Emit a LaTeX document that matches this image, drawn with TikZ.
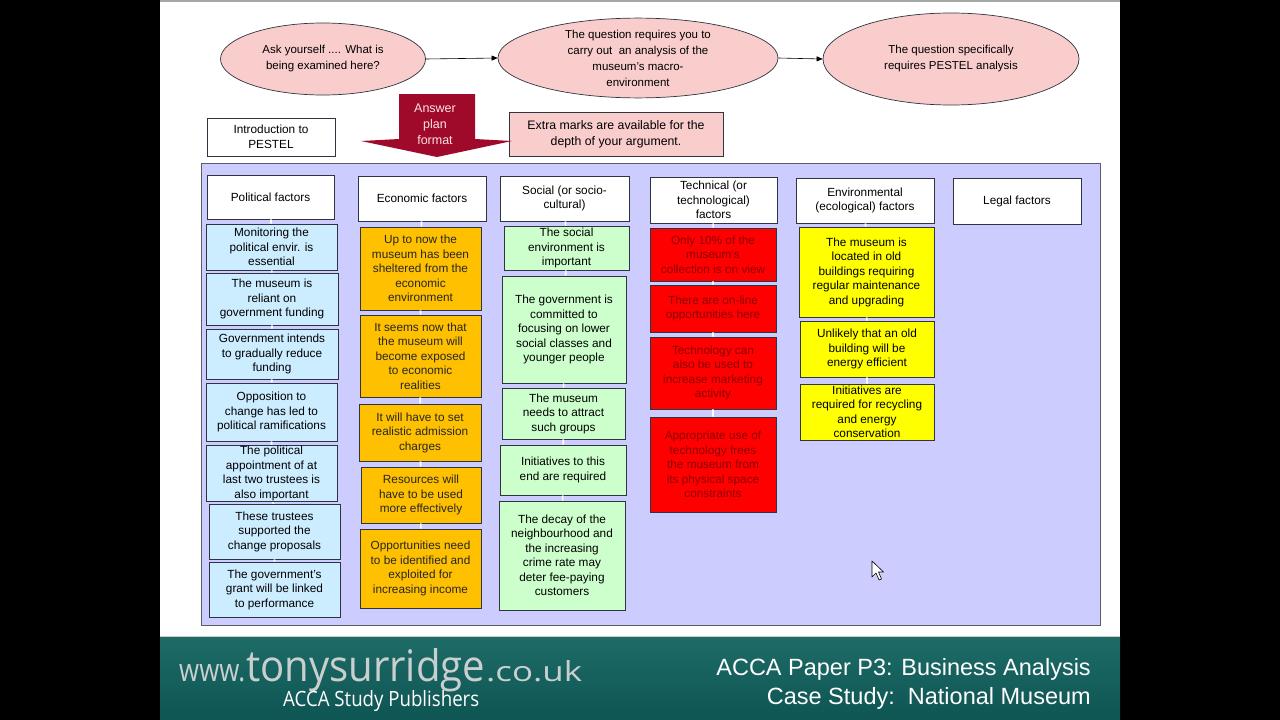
\documentclass[tikz,border=0pt]{standalone}
\usepackage{fontspec}
\setmainfont{Liberation Sans}
\newfontfamily\logofont{Open Sans}
\usetikzlibrary{shapes.geometric,arrows.meta}
\definecolor{pinkc}{HTML}{FACDCD}
\definecolor{lavc}{HTML}{CCCCFF}
\definecolor{polc}{HTML}{CCECFF}
\definecolor{ecoc}{HTML}{FFC000}
\definecolor{socc}{HTML}{CCFFCC}
\definecolor{tecc}{HTML}{FF0000}
\definecolor{envc}{HTML}{FFFF00}
\definecolor{arrc}{HTML}{A00A2A}
\definecolor{redtxt}{HTML}{8C0000}
\definecolor{bordc}{HTML}{2E3440}
\definecolor{tealtop}{HTML}{1D6B67}
\definecolor{tealbot}{HTML}{0E5553}
\definecolor{logoc}{HTML}{C9CFCF}
\newcommand\bodyf{\fontsize{11.8}{14.5}\selectfont}
\newcommand\bx[7]{\node[#6, minimum width={#4-#2}, minimum height={#5-#3}] (#1) at ({(#2+#4)/2},{(#3+#5)/2}) {#7};}
\tikzset{
  boxbase/.style={draw=bordc, line width=0.7pt, inner sep=1pt, align=center, font=\bodyf},
  hdrbox/.style={boxbase, fill=white},
  polbox/.style={boxbase, fill=polc},
  ecobox/.style={boxbase, fill=ecoc, text=black!85},
  socbox/.style={boxbase, fill=socc},
  tecbox/.style={boxbase, fill=tecc, text=redtxt},
  envbox/.style={boxbase, fill=envc},
  ellbox/.style={ellipse, draw=bordc, line width=0.7pt, fill=pinkc, inner sep=0pt, align=center, font=\fontsize{11.5}{16}\selectfont},
  wline/.style={white, line width=1.6pt},
  flowarrow/.style={-{Triangle[length=6pt,width=5pt]}, black, line width=0.6pt},
  logotext/.style={inner sep=0pt, text=logoc, font=\logofont}
}
\begin{document}
\begin{tikzpicture}[x=1pt,y=-1pt]
\useasboundingbox (0,0) rectangle (1280,720);
\fill[black] (0,0) rectangle (1280,720);
\fill[white] (160,0) rectangle (1120,637);
\draw[gray!70, line width=1.5pt] (160,1) -- (1120,1);
% footer
\shade[top color=tealtop, bottom color=tealbot] (160,637) rectangle (1120,720);
\draw[gray!40, line width=1pt] (160,636.5) -- (1120,636.5);
\node[logotext, anchor=base west] (www) at (179,681) {\resizebox{66pt}{17pt}{www.}};
\node[logotext, anchor=base west] (logo) at (246,681) {\resizebox{239pt}{33pt}{tonysurridge}};
\node[logotext, anchor=base west] (couk) at (486,681) {\resizebox{96pt}{21pt}{.co.uk}};
\node[anchor=base west, inner sep=0pt, text=white] (pub) at (283,706)
  {\resizebox{196pt}{16pt}{\logofont ACCA Study Publishers}};
\node[anchor=base east, inner sep=0pt, text=white, font=\fontsize{23.5}{24}\selectfont] (f1) at (1091,675) {ACCA Paper P3: Business Analysis};
\node[anchor=base east, inner sep=0pt, text=white, font=\fontsize{23.5}{24}\selectfont] (f2) at (1091,704) {Case Study:\ \ National Museum};
% ellipses
\node[ellbox, minimum width=205, minimum height=72] (q1) at (323,59) {Ask yourself .... What is\\being examined here?};
\node[ellbox, minimum width=280, minimum height=78] (q2) at (638,58) {The question requires you to\\carry out\ \ an analysis of the\\museum's macro-\\environment};
\node[ellbox, minimum width=256, minimum height=92] (q3) at (951,59) {The question specifically\\requires PESTEL analysis};
\draw[flowarrow] (q1.east) -- (q2.west);
\draw[flowarrow] (q2.east) -- (q3.west);
% intro and extra marks
\bx{intro}{207}{118}{335}{156}{hdrbox}{Introduction to\\PESTEL}
\bx{extra}{509}{112}{723}{156}{boxbase, fill=pinkc, font=\fontsize{12.3}{16}\selectfont}{Extra marks are available for the\\depth of your argument.}
% answer plan arrow
\fill[arrc] (399,94) -- (475,94) -- (475,139) -- (512,141) -- (437,157) -- (361,141) -- (399,139) -- cycle;
\node[align=center, text=pinkc!60!white, font=\fontsize{12.5}{16}\selectfont] (ap) at (435,124) {Answer\\plan\\format};
% main panel
\draw[draw=bordc!80, line width=0.7pt, fill=lavc] (201,163) rectangle (1100,625);
% headers
\bx{hp}{207}{175}{334}{219}{hdrbox}{Political factors}
\bx{he}{358}{176}{486}{221}{hdrbox}{Economic factors}
\bx{hs}{500}{176}{629}{221}{hdrbox}{Social (or socio-\\cultural)}
\bx{ht}{650}{177}{777}{223}{hdrbox}{Technical (or\\technological)\\factors}
\bx{hv}{796}{178}{934}{223}{hdrbox}{Environmental\\(ecological) factors}
\bx{hl}{953}{178}{1081}{224}{hdrbox}{Legal factors}
% political
\bx{p1}{206}{224}{337}{270}{polbox}{Monitoring the\\political envir. is\\essential}
\bx{p2}{206}{273}{338}{325}{polbox}{The museum is\\reliant on\\government funding}
\bx{p3}{206}{329}{338}{379}{polbox}{Government intends\\to gradually reduce\\funding}
\bx{p4}{206}{383}{337}{441}{polbox}{Opposition to\\change has led to\\political ramifications}
\bx{p5}{206}{446}{337}{501}{polbox}{The political\\appointment of at\\last two trustees is\\also important}
\bx{p6}{209}{504}{340}{559}{polbox}{These trustees\\supported the\\change proposals}
\bx{p7}{209}{562}{340}{617}{polbox}{The government's\\grant will be linked\\to performance}
% economic
\bx{e1}{360}{227}{481}{310}{ecobox}{Up to now the\\museum has been\\sheltered from the\\economic\\environment}
\bx{e2}{360}{315}{481}{397}{ecobox}{It seems now that\\the museum will\\become exposed\\to economic\\realities}
\bx{e3}{359}{404}{481}{461}{ecobox}{It will have to set\\realistic admission\\charges}
\bx{e4}{361}{467}{481}{523}{ecobox}{Resources will\\have to be used\\more effectively}
\bx{e5}{360}{529}{481}{608}{ecobox}{Opportunities need\\to be identified and\\exploited for\\increasing income}
% social
\bx{s1}{504}{226}{629}{270}{socbox}{The social\\environment is\\important}
\bx{s2}{502}{276}{626}{383}{socbox}{The government is\\committed to\\focusing on lower\\social classes and\\younger people}
\bx{s3}{502}{388}{625}{439}{socbox}{The museum\\needs to attract\\such groups}
\bx{s4}{500}{445}{626}{495}{socbox}{Initiatives to this\\end are required}
\bx{s5}{499}{501}{625}{610}{socbox}{The decay of the\\neighbourhood and\\the increasing\\crime rate may\\deter fee-paying\\customers}
% technical
\bx{t1}{650}{228}{776}{281}{tecbox}{Only 10\% of the\\museum's\\collection is on view}
\bx{t2}{650}{285}{776}{332}{tecbox}{There are on-line\\opportunities here}
\bx{t3}{650}{337}{776}{409}{tecbox}{Technology can\\also be used to\\increase marketing\\activity}
\bx{t4}{650}{417}{776}{512}{tecbox}{Appropriate use of\\technology frees\\the museum from\\its physical space\\constraints}
% environmental
\bx{v1}{799}{227}{934}{317}{envbox}{The museum is\\located in old\\buildings requiring\\regular maintenance\\and upgrading}
\bx{v2}{800}{321}{934}{377}{envbox}{Unlikely that an old\\building will be\\energy efficient}
\bx{v3}{800}{384}{934}{440}{envbox}{Initiatives are\\required for recycling\\and energy\\conservation}
% white connectors
\draw[wline] (hp) -- (p1) (p1) -- (p2) (p2) -- (p3) (p3) -- (p4) (p4) -- (p5) (p5) -- (p6) (p6) -- (p7);
\draw[wline] (he) -- (e1) (e1) -- (e2) (e2) -- (e3) (e3) -- (e4) (e4) -- (e5);
\draw[wline] (hs) -- (s1) (s1) -- (s2) (s2) -- (s3) (s3) -- (s4) (s4) -- (s5);
\draw[wline] (ht) -- (t1) (t1) -- (t2) (t2) -- (t3) (t3) -- (t4);
\draw[wline] (hv) -- (v1) (v1) -- (v2) (v2) -- (v3);
% mouse cursor
\draw[fill=white, line width=0.6pt, line join=round] (872,561) -- (872,577) -- (876,573) -- (879,580) -- (881.5,579) -- (878.5,572) -- (883.5,572) -- cycle;
\end{tikzpicture}
\end{document}
